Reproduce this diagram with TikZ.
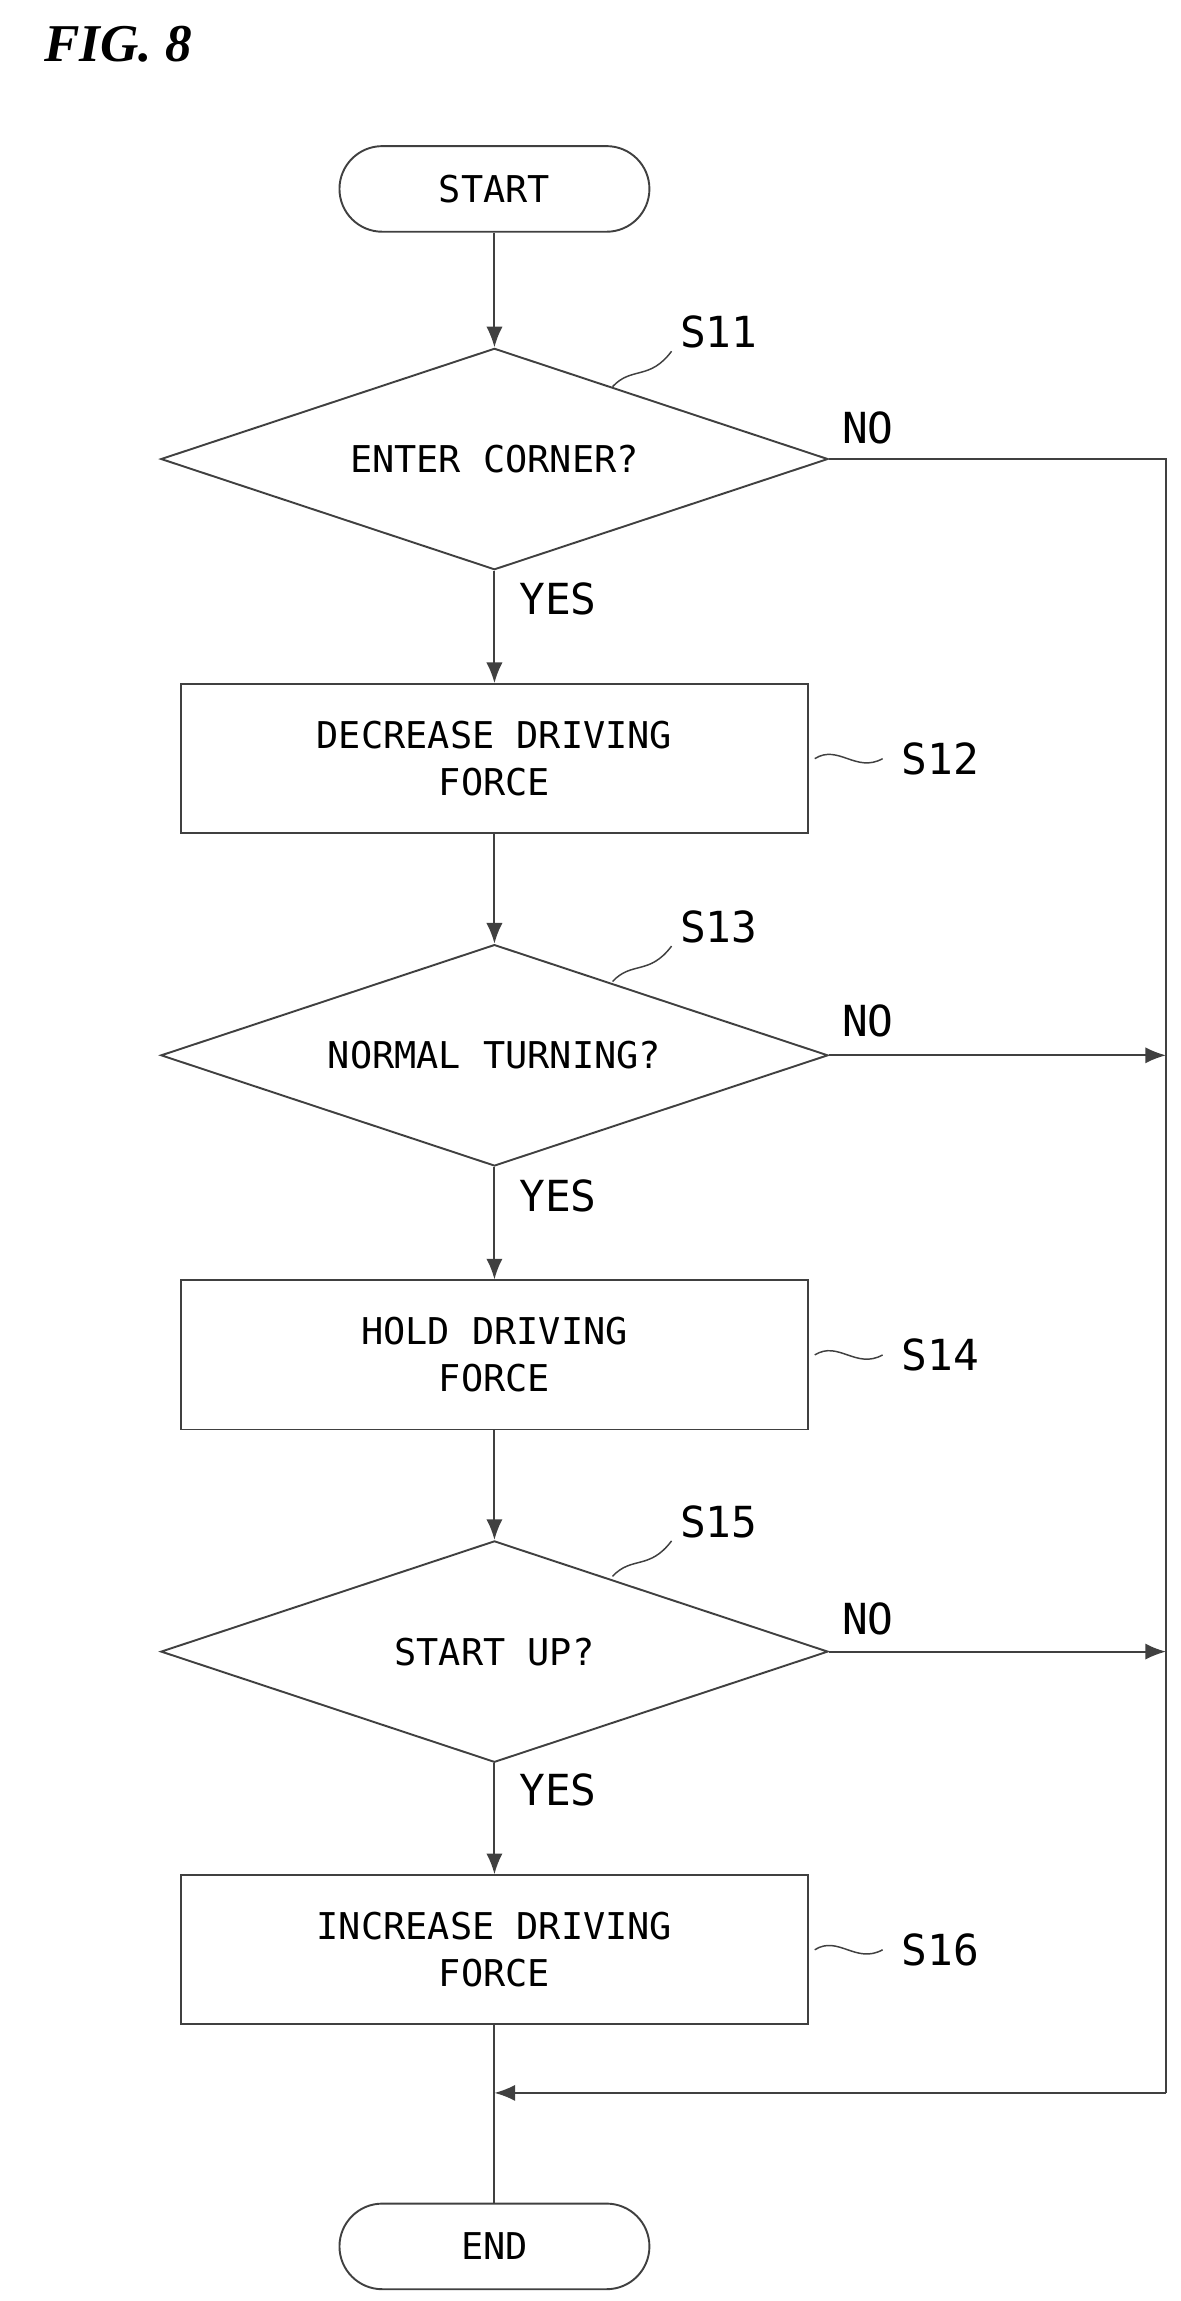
\documentclass[tikz,border=0pt]{standalone}
\usepackage{fontspec}
\setmainfont{Liberation Serif}
\newfontfamily\fc{DejaVu Sans Mono}
\usetikzlibrary{shapes.geometric,arrows.meta}
\begin{document}
\begin{tikzpicture}[x=1pt,y=-1pt,
  line/.style={draw=black!75,line width=1.3pt},
  arr/.style={line,-{Latex[length=14pt,width=11pt]}},
  box/.style={line,rectangle,minimum width=425pt,minimum height=101pt,font=\fc\fontsize{25}{32}\selectfont,align=center},
  term/.style={line,rounded corners=29pt,minimum width=210pt,minimum height=58pt,font=\fc\fontsize{25}{30}\selectfont},
  dia/.style={line,diamond,minimum width=452pt,minimum height=150pt,inner sep=0pt},
  txt/.style={font=\fc\fontsize{25}{30}\selectfont},
  lbl/.style={font=\fc\fontsize{29}{34}\selectfont}]
\useasboundingbox (0,0) rectangle (800,1559);
\node[font=\bfseries\itshape\fontsize{36}{40}\selectfont] (fig) at (80,30) {FIG. 8};
\node[term] (start) at (335,128) {START};
\node[dia] (s11) at (335,311) {}; \node[txt] (t11) at (335,311) {ENTER CORNER?};
\node[box] (s12) at (335,514) {DECREASE DRIVING\\FORCE};
\node[dia] (s13) at (335,715) {}; \node[txt] (t13) at (335,715) {NORMAL TURNING?};
\node[box] (s14) at (335,918) {HOLD DRIVING\\FORCE};
\node[dia] (s15) at (335,1119) {}; \node[txt] (t15) at (335,1119) {START UP?};
\node[box] (s16) at (335,1321) {INCREASE DRIVING\\FORCE};
\node[term] (end) at (335,1522) {END};
\coordinate (r11) at (790,311);
\coordinate (r13) at (790,715);
\coordinate (r15) at (790,1119);
\coordinate (rm) at (790,1418);
\coordinate (m) at (335,1418);
\draw[arr] (start) -- (s11.north);
\draw[arr] (s11.south) -- (s12.north);
\draw[arr] (s12.south) -- (s13.north);
\draw[arr] (s13.south) -- (s14.north);
\draw[arr] (s14.south) -- (s15.north);
\draw[arr] (s15.south) -- (s16.north);
\draw[line] (s16.south) -- (end.north);
\draw[line] (s11.east) -- (r11) -- (rm);
\draw[arr] (s13.east) -- (r13);
\draw[arr] (s15.east) -- (r15);
\draw[arr] (rm) -- (m);
\node[lbl] (no1) at (588,290) {NO};
\node[lbl] (no2) at (588,692) {NO};
\node[lbl] (no3) at (588,1097) {NO};
\node[lbl] (y1) at (378,406) {YES};
\node[lbl] (y2) at (378,810) {YES};
\node[lbl] (y3) at (378,1213) {YES};
\node[lbl] (l11) at (487,225) {S11};
\node[lbl] (l13) at (487,628) {S13};
\node[lbl] (l15) at (487,1031) {S15};
\node[lbl] (l12) at (637,514) {S12};
\node[lbl] (l14) at (637,918) {S14};
\node[lbl] (l16) at (637,1321) {S16};
\foreach \y in {0,403,806}{
  \draw[line,line width=1pt] (415,262+\y) .. controls (428,248+\y) and (440,258+\y) .. (455,238+\y);}
\foreach \y in {514,918,1321}{
  \draw[line,line width=1pt] (552,\y) .. controls (568,\y-10) and (580,\y+10) .. (598,\y);}
\end{tikzpicture}
\end{document}
